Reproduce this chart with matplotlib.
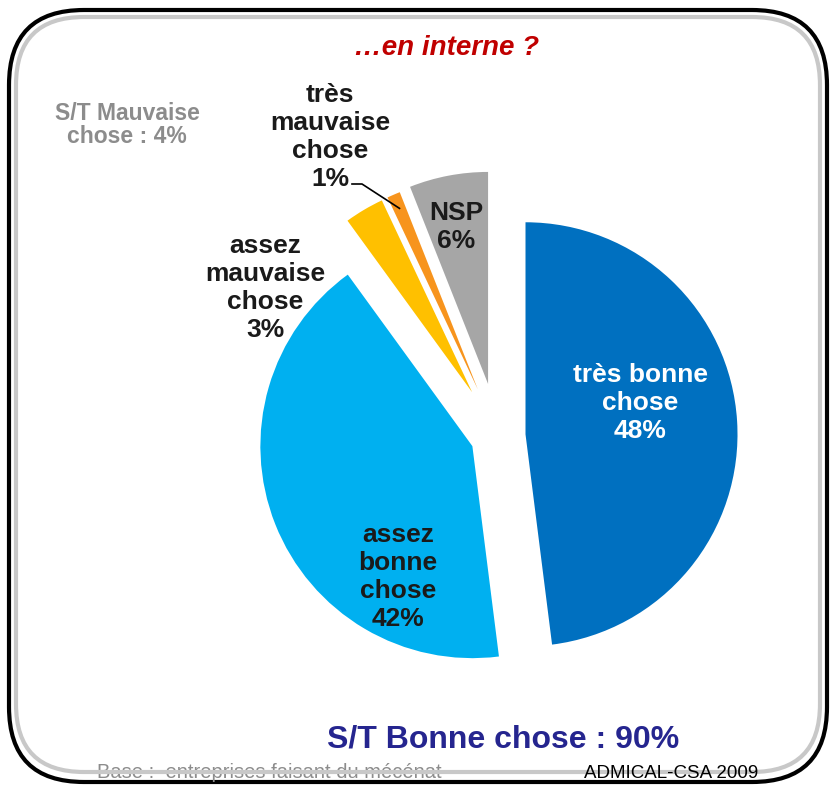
import matplotlib
matplotlib.use("Agg")
import numpy as np
from matplotlib import pyplot as plt
from matplotlib.patches import FancyBboxPatch

plt.rcParams['font.family'] = ['Liberation Sans', 'DejaVu Sans']

# data
labels = ["très bonne\nchose", "assez\nbonne\nchose", "assez\nmauvaise\nchose", "très\nmauvaise\nchose", "NSP"]
values = [48, 42, 3, 1, 6]
colors = ["#0070C0", "#00B0F0", "#FFC000", "#F7941D", "#A6A6A6"]
explode = [0.13, 0.13, 0.24, 0.24, 0.25]
title = "…en interne ?"
sub_bad = "S/T Mauvaise\nchose : 4%"
sub_good = "S/T Bonne chose : 90%"
base_txt = "Base :  entreprises faisant du mécénat"
source_txt = "ADMICAL-CSA 2009"

W, H = 830, 786
fig = plt.figure(figsize=(W/100, H/100), dpi=100)

# background axes in pixel coords (frame)
bg = fig.add_axes([0, 0, 1, 1])
bg.set_xlim(0, W)
bg.set_ylim(H, 0)
bg.axis('off')

bg.add_patch(FancyBboxPatch((9, 10), 818, 772, boxstyle="round,pad=0,rounding_size=75",
                            fc="white", ec="black", lw=3, zorder=1))
bg.add_patch(FancyBboxPatch((16, 17), 804, 755, boxstyle="round,pad=0,rounding_size=68",
                            fc="none", ec="#C8C8C8", lw=3, zorder=2))
bg.text(97, 773, base_txt, ha='left', va='center', fontsize=14.5, color='#8C8C8C', zorder=1.5)

# pie axes
cx, cy, R = 498, 436, 212
ax = fig.add_axes([(cx-300)/W, (H-cy-300)/H, 600/W, 600/H])
wedges, _ = ax.pie(values, colors=colors, explode=explode, startangle=90,
                   counterclock=False, radius=1, wedgeprops=dict(linewidth=0))
ax.set_xlim(-300/R, 300/R)
ax.set_ylim(-300/R, 300/R)
ax.patch.set_visible(False)

# top axes for texts, same pixel coords
top = fig.add_axes([0, 0, 1, 1])
top.set_xlim(0, W)
top.set_ylim(H, 0)
top.axis('off')

lab_kw = dict(ha='center', va='center', fontsize=19, fontweight='bold', linespacing=1.22)
top.text(640, 403, f"{labels[0]}\n{values[0]}%", color='white', **lab_kw)
top.text(398, 577, f"{labels[1]}\n{values[1]}%", color='#1a1a1a', **lab_kw)
top.text(265, 288, f"{labels[2]}\n{values[2]}%", color='#1a1a1a', **lab_kw)
top.text(330, 137, f"{labels[3]}\n{values[3]}%", color='#1a1a1a', **lab_kw)
top.text(456, 227, f"{labels[4]}\n{values[4]}%", color='#1a1a1a', **lab_kw)

# leader line for the 1% slice, end point taken from the wedge
w = wedges[3]
mid = np.deg2rad((w.theta1 + w.theta2) / 2)
px = w.center[0] + w.r * 0.93 * np.cos(mid)
py = w.center[1] + w.r * 0.93 * np.sin(mid)
end = top.transData.inverted().transform(ax.transData.transform((px, py)))
top.plot([352, 362, end[0]], [184, 184, end[1]], color='black', lw=1.2)

top.text(447, 48, title, ha='center', va='center', fontsize=20, fontweight='bold',
         fontstyle='italic', color='#C00000')
top.text(127, 125, sub_bad, ha='center', va='center', fontsize=16.5, fontweight='bold',
         color='#8C8C8C', linespacing=1.05)
top.text(503, 740, sub_good, ha='center', va='center', fontsize=23, fontweight='bold',
         color='#25258F')
top.text(758, 774, source_txt, ha='right', va='center', fontsize=13.5, color='black')

fig.savefig("out.png", dpi=100)
